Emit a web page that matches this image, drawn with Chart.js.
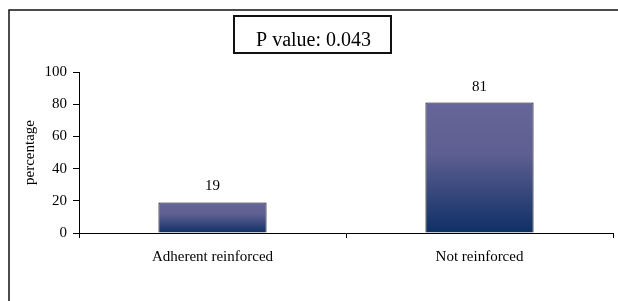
<!DOCTYPE html>
<html>
<head>
<meta charset="utf-8">
<script src="https://cdn.jsdelivr.net/npm/chart.js@4/dist/chart.umd.min.js"></script>
<style>
  html, body { margin: 0; padding: 0; background: #fff; }
  #wrap { width: 618px; height: 301px; position: relative; }
</style>
</head>
<body>
<div id="wrap"><canvas id="chart" width="618" height="301"></canvas></div>
<script>
const categories = ['Adherent reinforced', 'Not reinforced'];
const percentages = [19, 81];
const yTicks = [0, 20, 40, 60, 80, 100];
const pValueText = 'P value: 0.043';

const serif = "'Liberation Serif', 'Times New Roman', serif";

// gradient for each bar, from its top down to the axis
function barGradient(context) {
  const chart = context.chart;
  const yScale = chart.scales.y;
  const fallback = '#4a4f82';
  if (!yScale || context.raw == null) return fallback;
  const top = yScale.getPixelForValue(context.raw);
  const bottom = yScale.getPixelForValue(0);
  if (!isFinite(top) || !isFinite(bottom) || top === bottom) return fallback;
  const g = chart.ctx.createLinearGradient(0, top, 0, bottom);
  g.addColorStop(0, '#67669a');
  g.addColorStop(0.4, '#5d5e91');
  g.addColorStop(1, '#0e3065');
  return g;
}

// outer frame and the p value box
const framePlugin = {
  id: 'frame',
  beforeDraw(chart) {
    const ctx = chart.ctx;
    ctx.save();
    ctx.fillStyle = '#fff';
    ctx.fillRect(0, 0, chart.width, chart.height);
    ctx.strokeStyle = '#111';
    ctx.lineWidth = 1.5;
    ctx.strokeRect(9, 10, 700, 400);
    ctx.lineWidth = 2;
    ctx.strokeRect(234, 16, 157, 37);
    ctx.fillStyle = '#000';
    ctx.font = '20px ' + serif;
    ctx.textAlign = 'center';
    ctx.textBaseline = 'alphabetic';
    ctx.fillText(pValueText, 313.5, 46);
    ctx.restore();
  }
};

// value labels above the bars
const valueLabels = {
  id: 'valueLabels',
  afterDatasetsDraw(chart) {
    const ctx = chart.ctx;
    const meta = chart.getDatasetMeta(0);
    ctx.save();
    ctx.fillStyle = '#000';
    ctx.font = '15px ' + serif;
    ctx.textAlign = 'center';
    ctx.textBaseline = 'middle';
    meta.data.forEach((bar, i) => {
      ctx.fillText(String(percentages[i]), bar.x, bar.y - 16);
    });
    ctx.restore();
  }
};

new Chart(document.getElementById('chart'), {
  type: 'bar',
  data: {
    labels: categories,
    datasets: [{
      data: percentages,
      backgroundColor: barGradient,
      borderColor: '#000',
      borderWidth: 1,
      categoryPercentage: 1,
      barPercentage: 0.405
    }]
  },
  options: {
    responsive: false,
    animation: false,
    devicePixelRatio: 1,
    layout: { padding: { top: 72, right: 5, bottom: 28, left: 0 } },
    plugins: {
      legend: { display: false },
      tooltip: { enabled: false }
    },
    scales: {
      x: {
        offset: true,
        grid: {
          offset: true,
          drawOnChartArea: false,
          tickLength: 5,
          color: '#000'
        },
        border: { color: '#000', width: 1 },
        ticks: {
          color: '#000',
          font: { family: serif, size: 15 },
          padding: 10,
          maxRotation: 0
        },
        afterFit(scale) { scale.height = 40; }
      },
      y: {
        min: 0,
        max: 100,
        afterBuildTicks(scale) { scale.ticks = yTicks.map(v => ({ value: v })); },
        grid: {
          drawOnChartArea: false,
          tickLength: 6,
          color: '#000'
        },
        border: { color: '#000', width: 1 },
        ticks: {
          color: '#000',
          font: { family: serif, size: 15 },
          padding: 6
        },
        title: {
          display: true,
          text: 'percentage',
          color: '#000',
          font: { family: serif, size: 15 },
          padding: { top: 21, bottom: 0 }
        },
        afterFit(scale) { scale.width = 79; }
      }
    }
  },
  plugins: [framePlugin, valueLabels]
});
</script>
</body>
</html>
